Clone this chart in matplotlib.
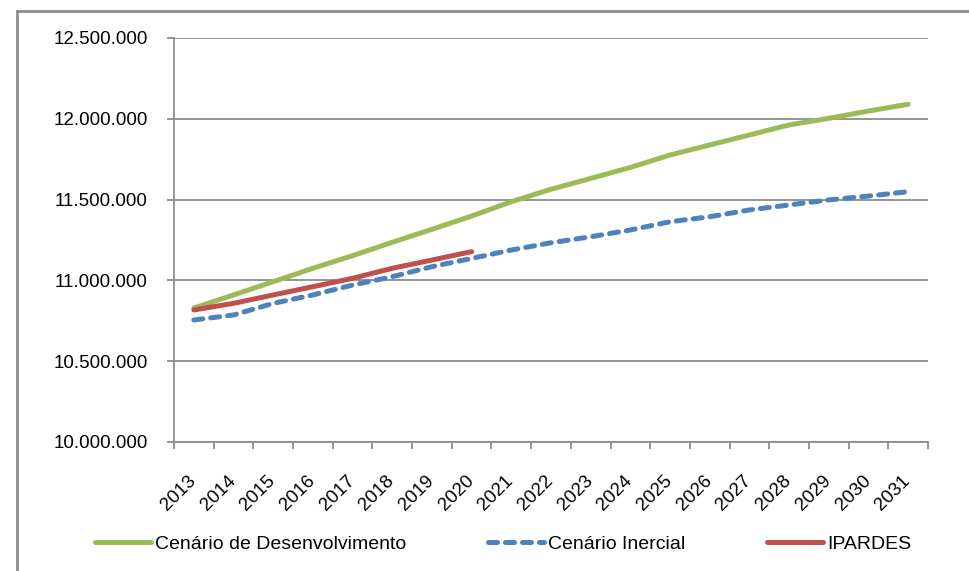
import matplotlib
matplotlib.use('Agg')
import matplotlib.pyplot as plt
from matplotlib.ticker import FuncFormatter, FixedLocator
from matplotlib.lines import Line2D
from matplotlib.transforms import ScaledTranslation

plt.rcParams['font.family'] = ['Liberation Sans', 'DejaVu Sans']

# data
years = list(range(2013, 2032))
desenvolvimento = [10829000, 10910000, 10992000, 11075000, 11153000, 11236000, 11316000,
                   11398000, 11487000, 11564000, 11631000, 11699000, 11776000, 11838000,
                   11900000, 11962000, 12003000, 12048000, 12090000]
inercial = [10755000, 10786000, 10858000, 10910000, 10971000, 11023000, 11085000,
            11136000, 11188000, 11233000, 11270000, 11312000, 11363000, 11394000,
            11436000, 11467000, 11498000, 11522000, 11549000]
ipardes_years = list(range(2013, 2021))
ipardes = [10817000, 10858000, 10910000, 10961000, 11013000, 11075000, 11126000, 11178000]

green = '#9BBB59'
blue = '#4F81BD'
red = '#C0504D'
grid_col = '#8C8C8C'

fig = plt.figure(figsize=(9.7, 5.71), dpi=100)
ax = fig.add_axes([174/970, 1 - 442/571, (928 - 174)/970, (442 - 38)/571])

xpos = [y - 2013 for y in years]
xpos_ip = [y - 2013 for y in ipardes_years]

ax.plot(xpos, desenvolvimento, color=green, lw=3.6, solid_capstyle='round',
        label='Cenário de Desenvolvimento', zorder=3)
ax.plot(xpos, inercial, color=blue, lw=3.6, dashes=(1.8, 1.6), dash_capstyle='round',
        label='Cenário Inercial', zorder=3)
ax.plot(xpos_ip, ipardes, color=red, lw=3.6, solid_capstyle='round',
        label='IPARDES', zorder=4)

ax.set_xlim(-0.5, len(years) - 0.5)
ax.set_ylim(10000000, 12500000)
ax.set_yticks([10000000, 10500000, 11000000, 11500000, 12000000, 12500000])
ax.yaxis.set_major_formatter(FuncFormatter(lambda v, p: f"{int(v):,}".replace(',', '.')))
ax.grid(axis='y', color=grid_col, lw=1.3)
ax.set_axisbelow(True)

# ticks between categories, labels at centres
ax.xaxis.set_major_locator(FixedLocator([i - 0.5 for i in range(len(years) + 1)]))
ax.xaxis.set_major_formatter(FuncFormatter(lambda v, p: ''))
ax.xaxis.set_minor_locator(FixedLocator(xpos))
ax.set_xticklabels([str(y) for y in years], minor=True)
ax.tick_params(axis='x', which='minor', length=0, pad=22, labelsize=13.5)
ax.tick_params(axis='x', which='major', length=5, width=1.3, color=grid_col)
ax.tick_params(axis='y', length=5, width=1.3, color=grid_col, labelsize=13.5, pad=14)
for lab in ax.get_xticklabels(minor=True):
    lab.set_rotation(45)
    lab.set_ha('right')
    lab.set_va('top')
    lab.set_transform(lab.get_transform() + ScaledTranslation(4/72, 0, fig.dpi_scale_trans))

for s in ['top', 'right']:
    ax.spines[s].set_visible(False)
for s in ['left', 'bottom']:
    ax.spines[s].set_color(grid_col)
    ax.spines[s].set_linewidth(1.3)

ax.legend(loc='center', bbox_to_anchor=(503/970, 1 - 544/571), bbox_transform=fig.transFigure,
          ncol=3, frameon=False, fontsize=14, handlelength=2.9, handletextpad=0.2,
          columnspacing=4.2)

# outer chart border (top and left visible in the crop)
fig.add_artist(Line2D([17/970, 17/970], [0, 1 - 11/571], color='#8C8C8C', lw=2,
                      transform=fig.transFigure))
fig.add_artist(Line2D([17/970, 1], [1 - 11/571, 1 - 11/571], color='#8C8C8C', lw=2,
                      transform=fig.transFigure))

fig.savefig('out.png', dpi=100)
